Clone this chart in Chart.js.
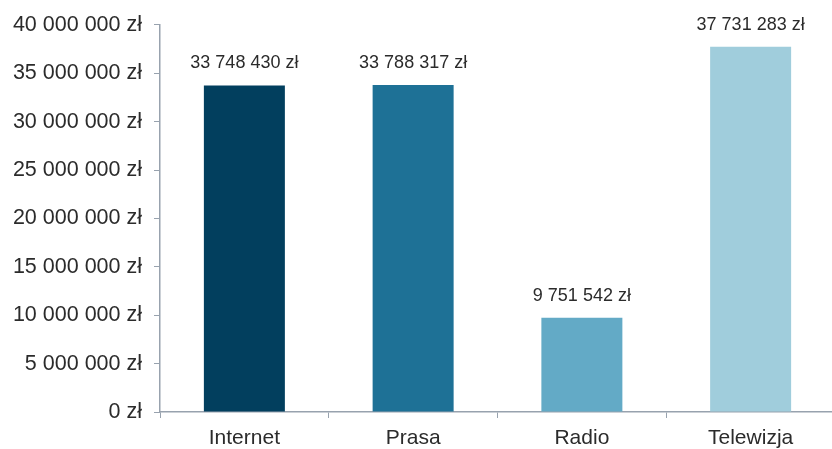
<!DOCTYPE html>
<html>
<head>
<meta charset="utf-8">
<script src="https://cdn.jsdelivr.net/npm/chart.js@4"></script>
<style>
    html, body { margin: 0; padding: 0; background: #fff; overflow: hidden; }
    #wrap { width: 835px; height: 449px; position: relative; }
</style>
</head>
<body>
<div id="wrap"><canvas id="chart"></canvas></div>
<script>
const categories = ['Internet', 'Prasa', 'Radio', 'Telewizja'];
const spend = [33748430, 33788317, 9751542, 37731283];
const barColors = ['#023f5e', '#1e7196', '#63aac6', '#a0cddc'];

const formatZl = (value) => String(Math.round(value)).replace(/\B(?=(\d{3})+(?!\d))/g, ' ') + ' zł';
const axisColor = '#98a2ae';
const textColor = '#2b2b2b';
const fontFamily = '"Liberation Sans", Arial, sans-serif';

const valueLabels = {
    id: 'valueLabels',
    afterDatasetsDraw(chart) {
        const { ctx } = chart;
        const meta = chart.getDatasetMeta(0);
        ctx.save();
        ctx.font = '18px ' + fontFamily;
        ctx.fillStyle = textColor;
        ctx.textAlign = 'center';
        ctx.textBaseline = 'alphabetic';
        meta.data.forEach((bar, i) => {
            ctx.fillText(formatZl(spend[i]), bar.x, bar.y - 17);
        });
        ctx.restore();
    }
};

new Chart(document.getElementById('chart'), {
    type: 'bar',
    data: {
        labels: categories,
        datasets: [{
            data: spend,
            backgroundColor: barColors,
            categoryPercentage: 1,
            barPercentage: 0.48
        }]
    },
    options: {
        responsive: true,
        maintainAspectRatio: false,
        animation: false,
        layout: { padding: { top: 21, right: 0, bottom: 0, left: 0 } },
        plugins: {
            legend: { display: false },
            tooltip: { enabled: false }
        },
        scales: {
            x: {
                grid: {
                    offset: true,
                    drawOnChartArea: false,
                    drawTicks: true,
                    tickLength: 6,
                    color: axisColor
                },
                border: { color: axisColor, width: 1.5 },
                ticks: {
                    color: textColor,
                    padding: 8,
                    maxRotation: 0,
                    font: { family: fontFamily, size: 21 }
                },
                afterFit(scale) { scale.height = 37; }
            },
            y: {
                min: 0,
                max: 40000000,
                grid: {
                    drawOnChartArea: false,
                    drawTicks: true,
                    tickLength: 6,
                    color: axisColor
                },
                border: { color: axisColor, width: 1.5 },
                ticks: {
                    stepSize: 5000000,
                    color: textColor,
                    padding: 12,
                    font: { family: fontFamily, size: 21.5 },
                    callback: (value) => formatZl(value)
                },
                afterFit(scale) { scale.width = 160; }
            }
        }
    },
    plugins: [valueLabels]
});
</script>
</body>
</html>
